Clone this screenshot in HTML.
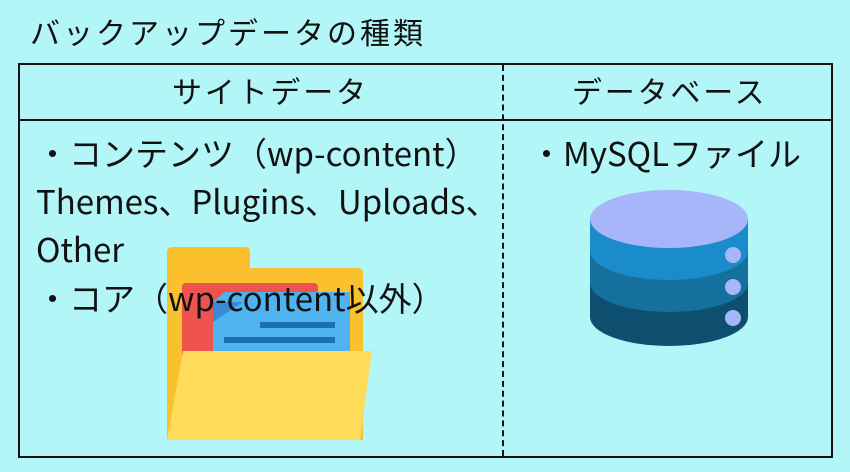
<!DOCTYPE html>
<html><head><meta charset="utf-8"><style>
body{margin:0;width:850px;height:472px;background:#b3f6f8;position:relative;overflow:hidden;font-family:"Noto Sans CJK JP","Liberation Sans",sans-serif;color:#111}
.t{position:absolute;white-space:nowrap;font-size:30px;line-height:1}
.b{font-size:33px}
</style></head><body>
<svg style="position:absolute;left:0;top:0" width="850" height="472">
<path d="M167 252 q0-5 5-5 h73 q5 0 5 5 v16 h108 q5 0 5 5 v167 h-196z" fill="#fbc02d"/>
<rect x="182" y="283" width="136" height="80" rx="4" fill="#ef5350"/>
<path d="M213 302 l12-10 h125 v60 h-137z" fill="#4fb3f0"/>
<path d="M213 302 h30 l-30 20z" fill="#3a8ad8"/>
<rect x="260" y="322" width="75" height="6" fill="#1e6fb0"/>
<rect x="224" y="337" width="111" height="6" fill="#1e6fb0"/>
<path d="M183 351 h189 l-12 89 h-193z" fill="#ffdb5c"/>
<path d="M590 219 v98 a79 29 0 0 0 158 0 v-98z" fill="#0e4f70"/>
<path d="M590 219 v64 a79 29 0 0 0 158 0 v-64z" fill="#16709e"/>
<path d="M590 219 v32 a79 29 0 0 0 158 0 v-32z" fill="#1b8ccb"/>
<ellipse cx="669" cy="219" rx="79" ry="29" fill="#a7b6f8"/>
<circle cx="733" cy="255" r="8" fill="#a7b6f8"/><circle cx="733" cy="287" r="8" fill="#a7b6f8"/><circle cx="733" cy="318" r="8" fill="#a7b6f8"/>
</svg>
<div class="t" style="left:30px;top:16px;letter-spacing:3px">バックアップデータの種類</div>
<div style="position:absolute;left:18px;top:63px;width:811px;height:391px;border:2px solid #111"></div>
<div style="position:absolute;left:18px;top:119px;width:813px;height:2px;background:#111"></div>
<div style="position:absolute;left:502px;top:65px;height:391px;border-left:2px dashed #111"></div>
<div class="t" style="left:172px;top:75px;letter-spacing:2.8px">サイトデータ</div>
<div class="t" style="left:572px;top:75px;letter-spacing:2.8px">データベース</div>
<div class="t b" style="left:36px;top:136px">・コンテンツ（wp-content）</div>
<div class="t b" style="left:36px;top:184px">Themes、Plugins、Uploads、</div>
<div class="t b" style="left:36px;top:232px">Other</div>
<div class="t b" style="left:36px;top:281px">・コア（wp-content以外）</div>
<div class="t b" style="left:530px;top:136px">・MySQLファイル</div>
</body></html>
